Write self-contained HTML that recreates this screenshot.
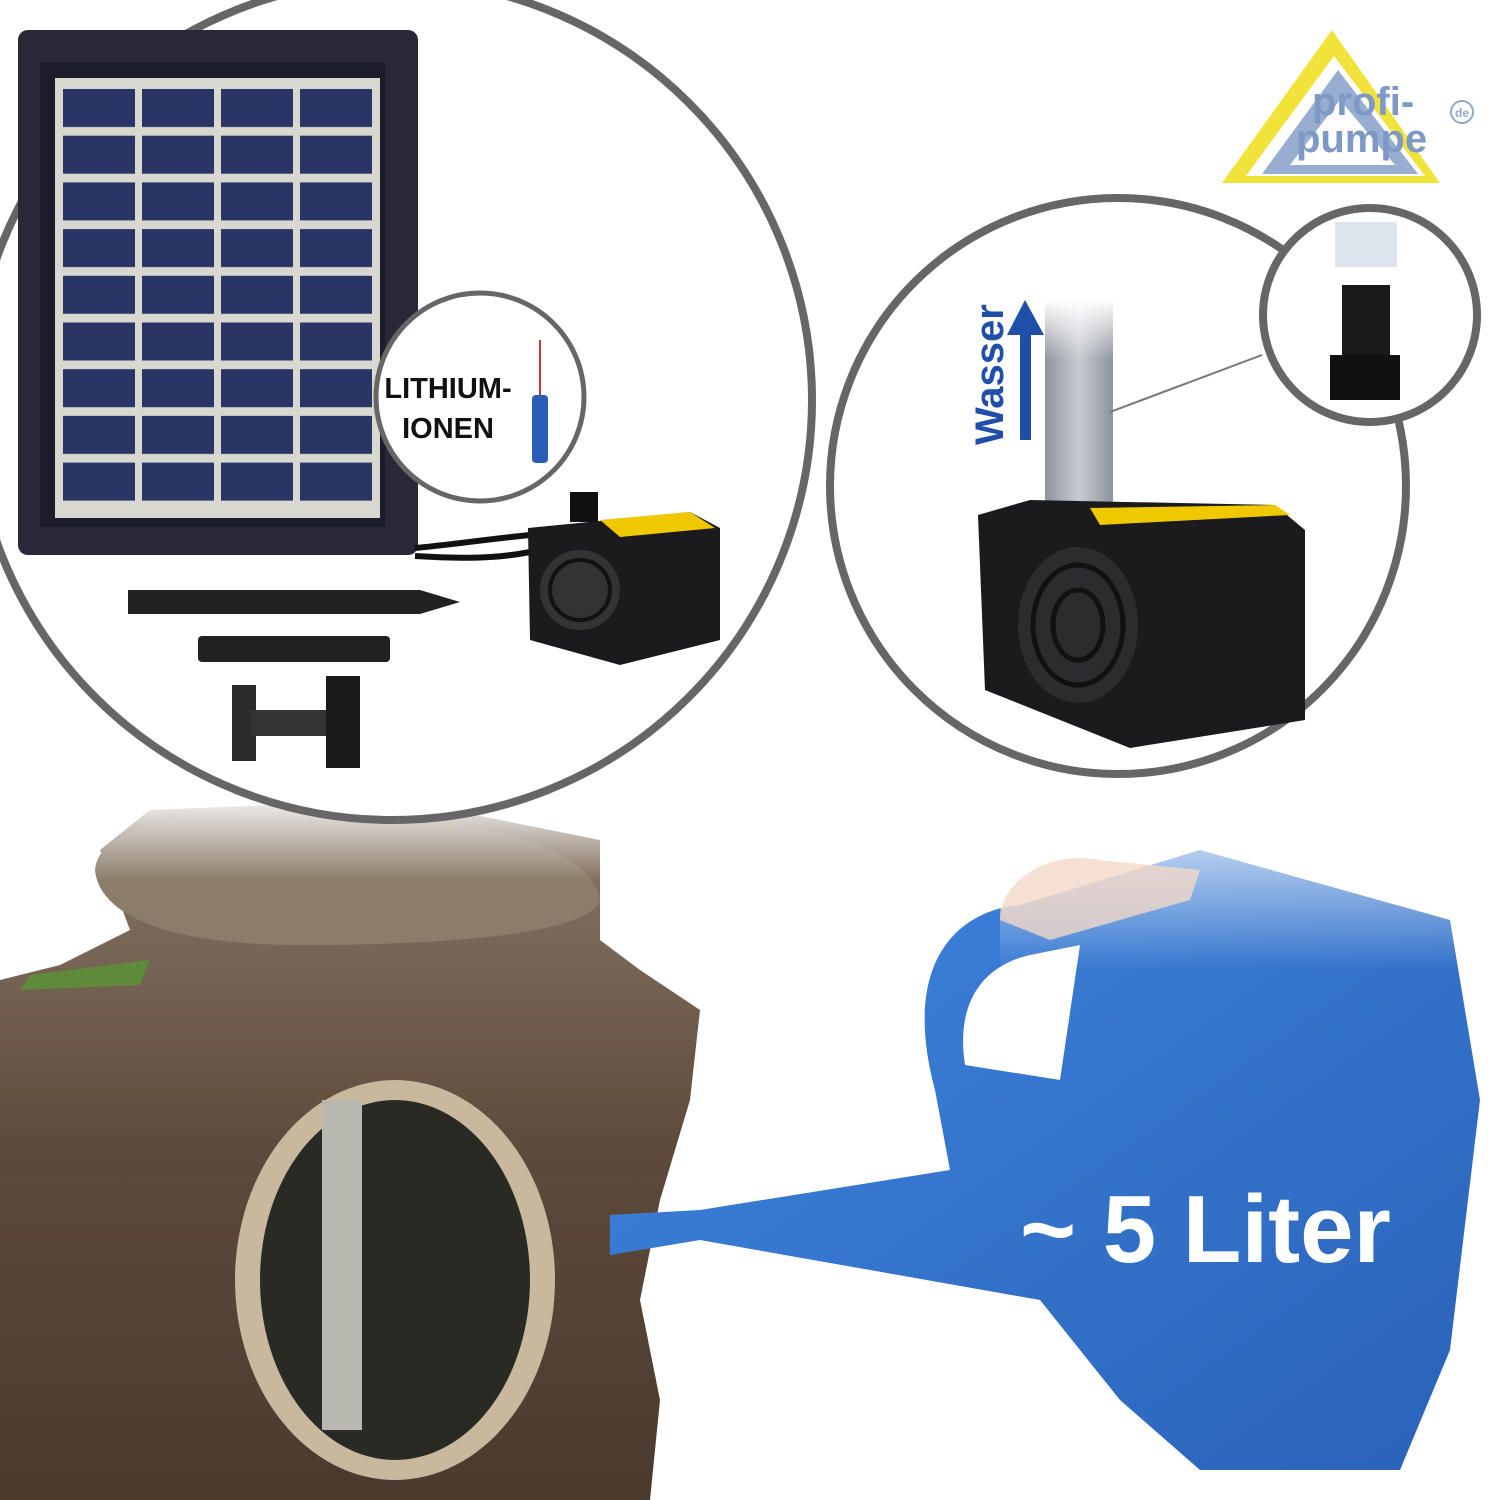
<!DOCTYPE html>
<html><head><meta charset="utf-8"><style>
html,body{margin:0;padding:0;background:#fff;}
svg{display:block}
text{font-family:"Liberation Sans",sans-serif;font-weight:bold}
</style></head><body>
<svg width="1500" height="1500" viewBox="0 0 1500 1500" xmlns="http://www.w3.org/2000/svg">
<defs>
<linearGradient id="rock" x1="0" y1="0" x2="0" y2="1"><stop offset="0" stop-color="#8a7a68"/><stop offset="0.5" stop-color="#5e4a3c"/><stop offset="1" stop-color="#4a3a2e"/></linearGradient>
<linearGradient id="can" x1="0" y1="0" x2="1" y2="1"><stop offset="0" stop-color="#3f86e0"/><stop offset="1" stop-color="#2a62b8"/></linearGradient>
<linearGradient id="fade" x1="0" y1="0" x2="0" y2="1"><stop offset="0" stop-color="#fff" stop-opacity="1"/><stop offset="1" stop-color="#fff" stop-opacity="0"/></linearGradient>
<linearGradient id="tube" x1="0" y1="0" x2="1" y2="0"><stop offset="0" stop-color="#8e939c"/><stop offset="0.5" stop-color="#c8ccd2"/><stop offset="1" stop-color="#8e939c"/></linearGradient>
<pattern id="cells" x="60" y="85" width="79" height="46.7" patternUnits="userSpaceOnUse">
<rect x="0" y="0" width="79" height="46.7" fill="#d8d8d0"/>
<rect x="3" y="4" width="72" height="38" fill="#2a3566"/>
</pattern>
</defs>
<rect width="1500" height="1500" fill="#fff"/>

<path d="M0,980 L60,965 L130,930 L100,850 L150,810 L400,800 L600,840 L600,940 L640,970 L700,1010 L690,1100 L660,1200 L640,1300 L660,1400 L650,1500 L0,1500 Z" fill="url(#rock)"/>
<path d="M95,870 C100,820 200,805 350,815 C500,820 590,850 600,900 C590,930 480,945 300,945 C180,945 100,920 95,870 Z" fill="#8c7d6b"/>
<path d="M30,975 L150,960 L140,985 L20,990 Z" fill="#5f8a3a"/>
<ellipse cx="395" cy="1280" rx="160" ry="200" fill="#c7b89e"/>
<ellipse cx="395" cy="1280" rx="135" ry="180" fill="#2a2a24"/>
<rect x="322" y="1100" width="40" height="330" fill="#b8b8b0"/>
<rect x="0" y="790" width="700" height="90" fill="url(#fade)"/>

<path d="M935,1090 C900,960 960,910 1020,905 L1200,850 L1450,920 L1480,1100 L1450,1350 L1400,1470 L1200,1470 L1120,1400 L1040,1300 L700,1240 L610,1255 L610,1215 L700,1210 L950,1170 Z" fill="url(#can)"/>
<path d="M965,1065 C955,1000 985,965 1030,955 L1080,945 L1060,1080 Z" fill="#fff"/>
<rect x="1000" y="780" width="500" height="190" fill="url(#fade)"/>
<path d="M1000,920 C1000,880 1050,850 1100,860 L1200,870 L1190,900 L1050,940 Z" fill="#f2d8c8" opacity="0.8"/>
<text x="1020" y="1262" font-size="96" fill="#fff">~ 5 Liter</text>

<circle cx="392" cy="400" r="420" fill="#fff" stroke="#666" stroke-width="8"/>
<rect x="18" y="30" width="400" height="525" rx="10" fill="#2a2838"/>
<rect x="40" y="62" width="345" height="465" fill="#1d1c2a"/>
<rect x="55" y="78" width="325" height="440" fill="#d8d8d0"/>
<rect x="60" y="85" width="316" height="420" fill="url(#cells)"/>
<path d="M415,548 C450,545 480,540 530,535 M415,556 C450,558 490,560 530,552" stroke="#111" stroke-width="6" fill="none"/>
<rect x="570" y="492" width="28" height="30" fill="#111"/>
<path d="M528,528 L690,512 L720,528 L720,640 L620,665 L530,640 Z" fill="#1b1b1d"/>
<path d="M600,520 L690,512 L715,528 L620,537 Z" fill="#f0c800"/>
<circle cx="580" cy="590" r="40" fill="#333"/>
<circle cx="580" cy="590" r="30" fill="none" stroke="#111" stroke-width="4"/>
<path d="M128,590 L420,590 L460,602 L420,614 L128,614 Z" fill="#222"/>
<rect x="198" y="636" width="192" height="26" rx="4" fill="#222"/>
<rect x="232" y="685" width="24" height="76" fill="#2a2a2a"/>
<rect x="250" y="710" width="85" height="26" fill="#333"/>
<rect x="326" y="676" width="34" height="92" fill="#1a1a1a"/>
<circle cx="480" cy="397" r="104" fill="#fff" stroke="#666" stroke-width="5"/>
<text x="448" y="398" font-size="29" fill="#111" text-anchor="middle">LITHIUM-</text>
<text x="448" y="438" font-size="29" fill="#111" text-anchor="middle">IONEN</text>
<rect x="532" y="395" width="16" height="68" rx="4" fill="#2a5db5"/>
<path d="M540,395 L540,340" stroke="#c33" stroke-width="2"/>

<circle cx="1118" cy="486" r="288" fill="#fff" stroke="#666" stroke-width="8"/>
<rect x="1045" y="300" width="68" height="210" fill="url(#tube)"/>
<rect x="1045" y="300" width="68" height="60" fill="url(#fade)"/>
<path d="M978,515 L1030,500 L1275,505 L1305,530 L1305,720 L1130,748 L985,690 Z" fill="#1b1b1d"/>
<path d="M1090,508 L1275,505 L1290,515 L1100,525 Z" fill="#f0c800"/>
<ellipse cx="1078" cy="625" rx="60" ry="78" fill="#2c2c2e"/>
<ellipse cx="1078" cy="625" rx="45" ry="60" fill="none" stroke="#111" stroke-width="5"/>
<ellipse cx="1078" cy="625" rx="25" ry="35" fill="none" stroke="#111" stroke-width="5"/>
<text transform="translate(1003,445) rotate(-90)" font-size="40" fill="#1f4fa8">Wasser</text>
<rect x="1020" y="330" width="11" height="110" fill="#1f4fa8"/>
<polygon points="1007,335 1025,300 1044,335" fill="#1f4fa8"/>
<line x1="1110" y1="412" x2="1262" y2="355" stroke="#777" stroke-width="2"/>
<circle cx="1370" cy="315" r="107" fill="#fff" stroke="#666" stroke-width="8"/>
<rect x="1335" y="222" width="62" height="45" fill="#dde4ee"/>
<rect x="1342" y="285" width="48" height="70" fill="#1a1a1c"/>
<rect x="1330" y="355" width="70" height="45" fill="#111"/>

<polygon points="1222,183 1332,30 1440,183" fill="#f2e33a"/>
<polygon points="1246,176 1334,56 1425,176" fill="#fff"/>
<polygon points="1262,174 1338,70 1418,174" fill="#98aed0"/>
<polygon points="1290,165 1340,100 1395,165" fill="#fff"/>
<text x="1312" y="115" font-size="40" fill="#7f99c6">profi-</text>
<text x="1296" y="152" font-size="40" fill="#7f99c6">pumpe</text>
<circle cx="1462" cy="112" r="11" fill="none" stroke="#8fa8cc" stroke-width="2"/>
<text x="1462" y="117" font-size="12" fill="#8fa8cc" text-anchor="middle">de</text>
</svg>
</body></html>
